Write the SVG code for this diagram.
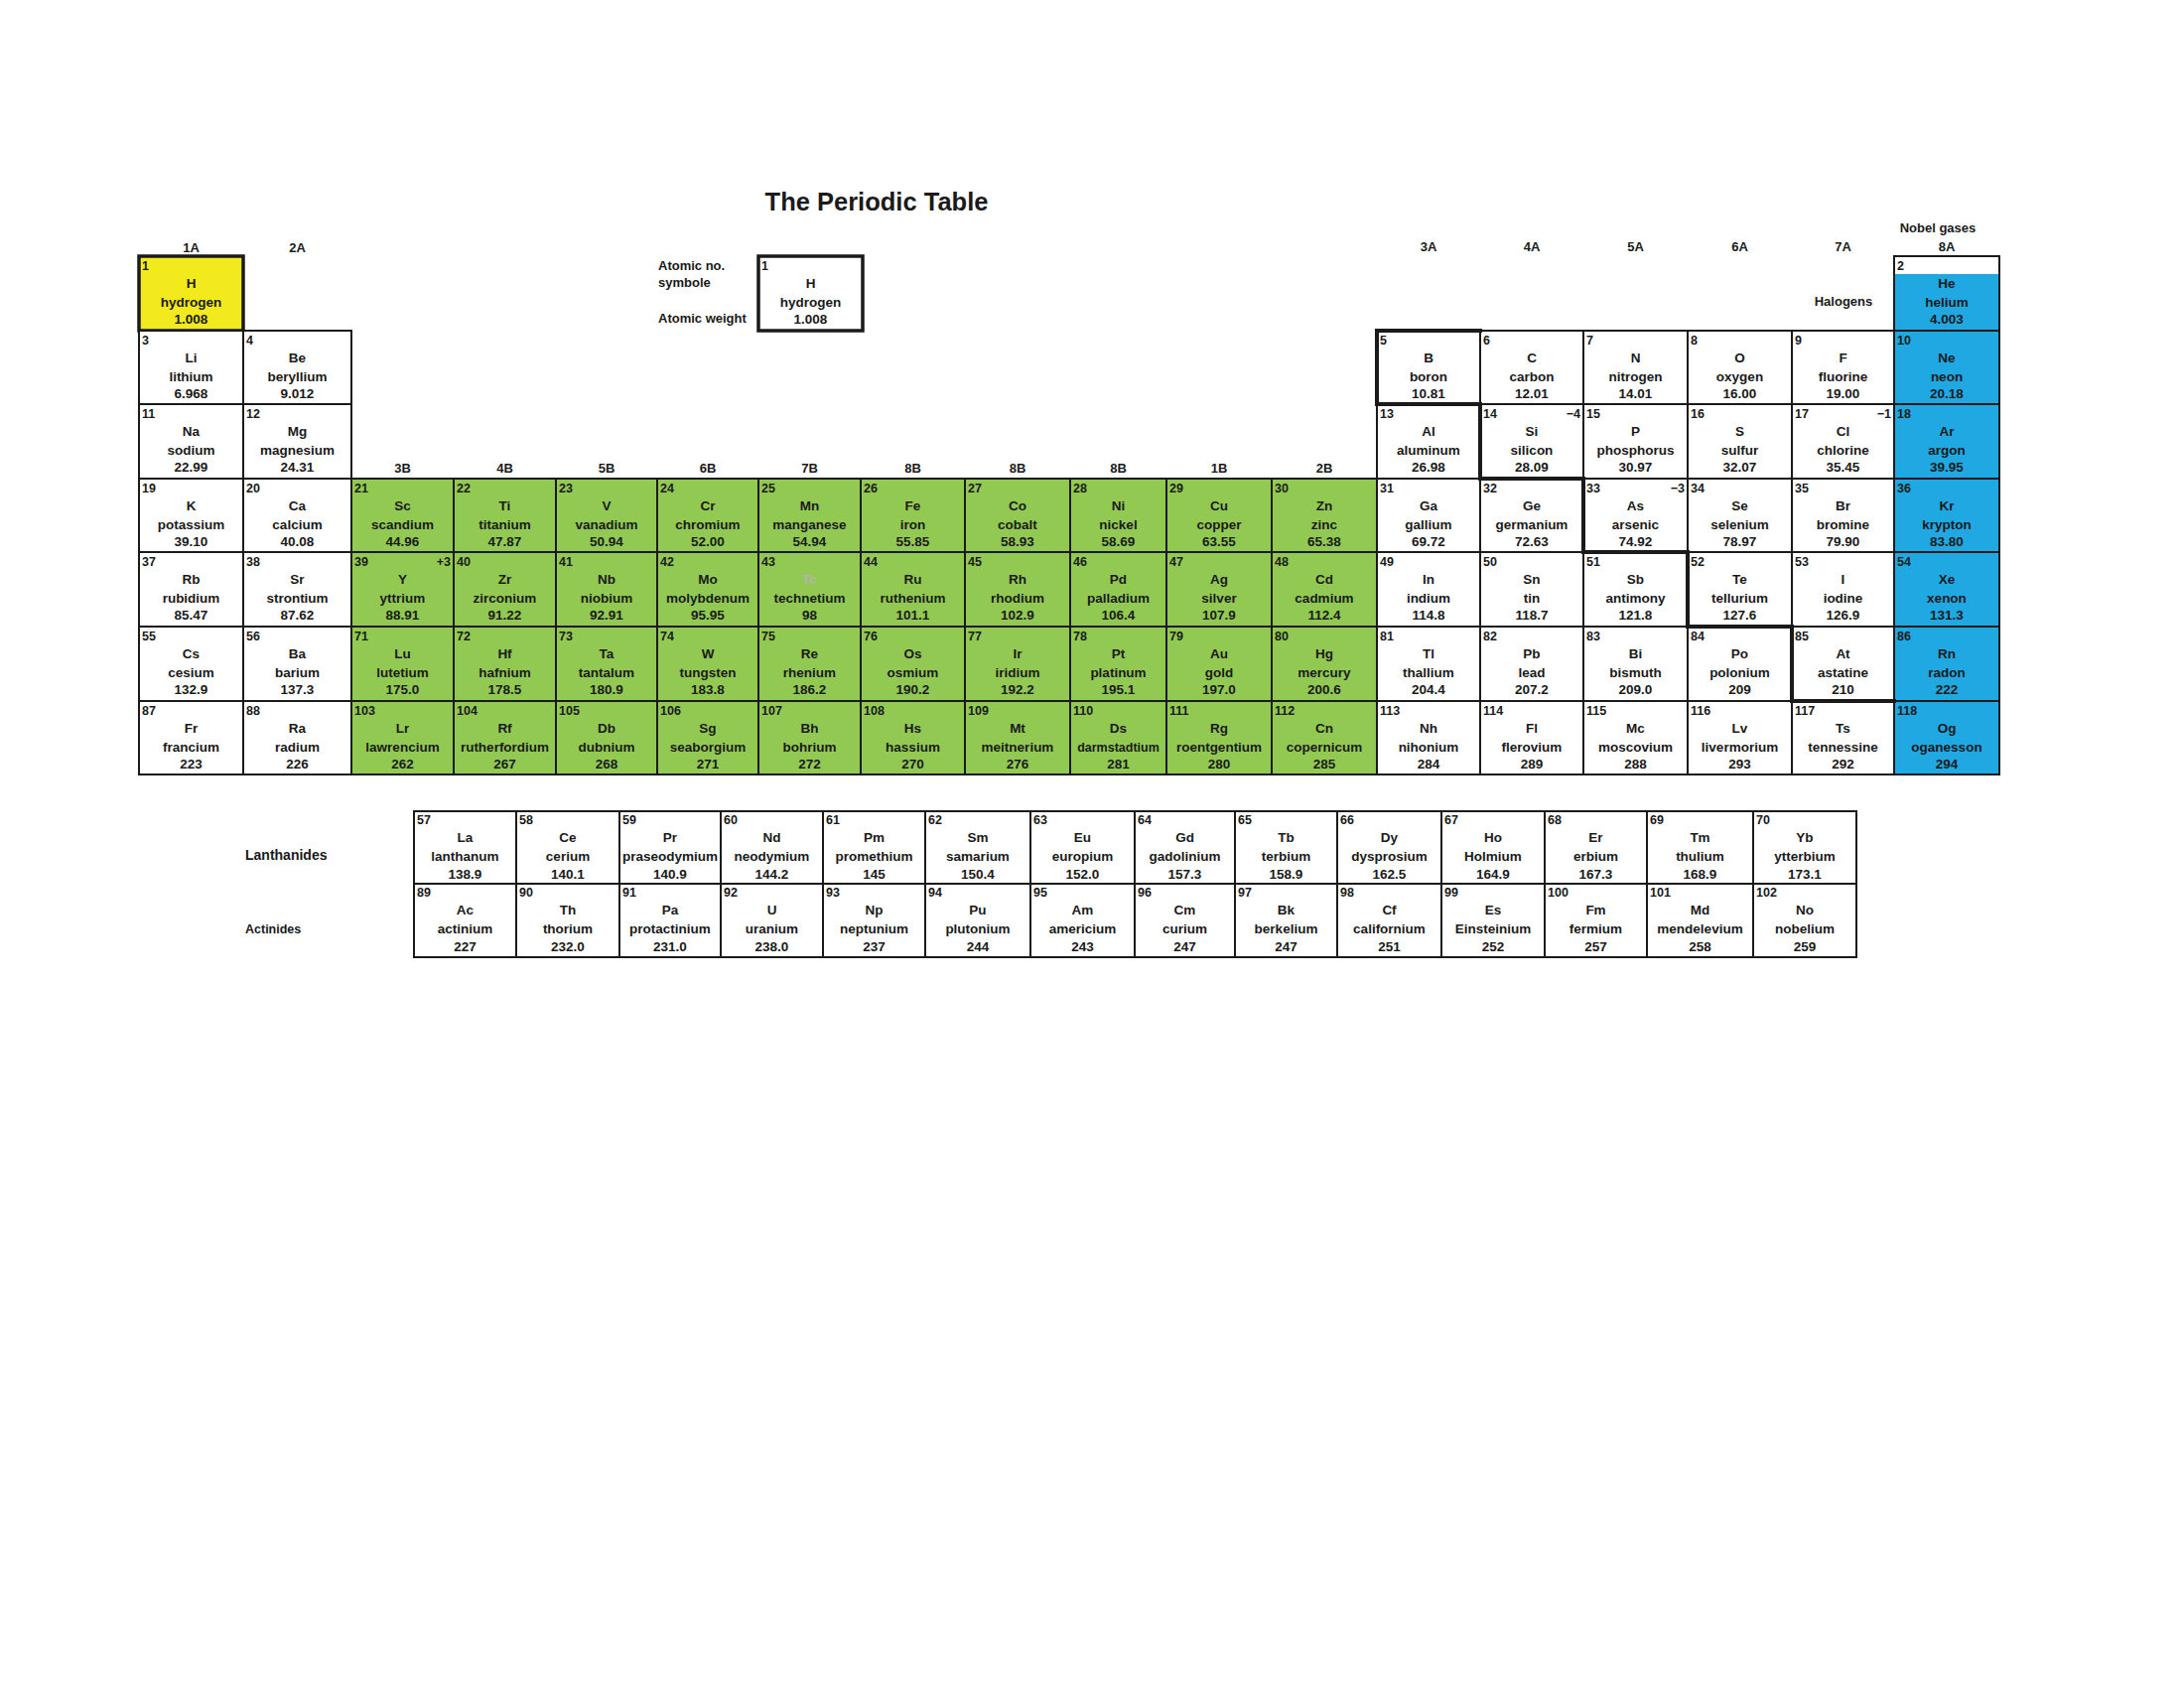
<svg xmlns="http://www.w3.org/2000/svg" width="2200" height="1700" viewBox="0 0 2200 1700">
<style>
text{font-family:"Liberation Sans",Arial,sans-serif;font-weight:bold;fill:#1a1a1a;font-size:13.5px;text-anchor:middle}
.n{font-size:12.5px;text-anchor:start}
.o{font-size:12.5px;text-anchor:end}
.lbl{font-size:13px}
.lft{font-size:13px;text-anchor:start}
.title{font-size:25.5px}
.cell rect{fill:#fff;stroke:#1a1a1a;stroke-width:2}
.g rect{fill:#92c953;stroke:#1a1a1a;stroke-width:2}
.b rect{fill:#1fa8e1;stroke:#1a1a1a;stroke-width:2}
.yel rect{fill:#f2ea1d;stroke:#1a1a1a;stroke-width:3.5}
.thick rect{stroke-width:3.5}
.tc{fill:#b4b4b4}
.stair{fill:none;stroke:#1a1a1a;stroke-width:4;stroke-linecap:square}
</style>
<rect width="2200" height="1700" fill="#fff"/>
<g id="labels">
<text class="title" x="883" y="212">The Periodic Table</text>
<text class="lbl" x="192.5" y="254">1A</text>
<text class="lbl" x="299.5" y="254">2A</text>
<text class="lbl" x="1439" y="253">3A</text>
<text class="lbl" x="1543" y="253">4A</text>
<text class="lbl" x="1647.5" y="253">5A</text>
<text class="lbl" x="1752.5" y="253">6A</text>
<text class="lbl" x="1856.5" y="253">7A</text>
<text class="lbl" x="1961" y="253">8A</text>
<text class="lbl" x="1952" y="234">Nobel gases</text>
<text class="lbl" x="1857" y="308">Halogens</text>
<text class="lbl" x="405.5" y="476">3B</text>
<text class="lbl" x="508.5" y="476">4B</text>
<text class="lbl" x="611" y="476">5B</text>
<text class="lbl" x="713" y="476">6B</text>
<text class="lbl" x="815.5" y="476">7B</text>
<text class="lbl" x="919.5" y="476">8B</text>
<text class="lbl" x="1025" y="476">8B</text>
<text class="lbl" x="1126.5" y="476">8B</text>
<text class="lbl" x="1228" y="476">1B</text>
<text class="lbl" x="1334" y="476">2B</text>
<text class="lft" x="663" y="272">Atomic no.</text>
<text class="lft" x="663" y="289">symbole</text>
<text class="lft" x="663" y="325">Atomic weight</text>
<text class="lft" x="247" y="866" style="font-size:14px">Lanthanides</text>
<text class="lft" x="247" y="940" style="font-size:12.5px">Actinides</text>
</g>
<g id="legend" class="cell thick"><rect x="764" y="258" width="105" height="75"/><text class="n" x="767" y="271.5">1</text><text x="816.5" y="290">H</text><text x="816.5" y="308.5">hydrogen</text><text x="816.5" y="326">1.008</text></g>
<g id="cells">
<g id="e1" class="yel"><rect x="140" y="258" width="105" height="75"/><text class="n" x="143" y="271.5">1</text><text x="192.5" y="290">H</text><text x="192.5" y="308.5">hydrogen</text><text x="192.5" y="326">1.008</text></g>
<g id="e2" class="cell"><rect x="1908" y="258" width="106" height="75"/><rect x="1909" y="276" width="104" height="56" style="fill:#1fa8e1;stroke:none"/><text class="n" x="1911" y="271.5">2</text><text x="1961" y="290">He</text><text x="1961" y="308.5">helium</text><text x="1961" y="326">4.003</text></g>

<g id="e3" class="cell"><rect x="140" y="333" width="105" height="74"/><text class="n" x="143" y="346.5">3</text><text x="192.5" y="365">Li</text><text x="192.5" y="383.5">lithium</text><text x="192.5" y="401">6.968</text></g>
<g id="e4" class="cell"><rect x="245" y="333" width="109" height="74"/><text class="n" x="248" y="346.5">4</text><text x="299.5" y="365">Be</text><text x="299.5" y="383.5">beryllium</text><text x="299.5" y="401">9.012</text></g>
<g id="e5" class="cell"><rect x="1387" y="333" width="104" height="74"/><text class="n" x="1390" y="346.5">5</text><text x="1439" y="365">B</text><text x="1439" y="383.5">boron</text><text x="1439" y="401">10.81</text></g>
<g id="e6" class="cell"><rect x="1491" y="333" width="104" height="74"/><text class="n" x="1494" y="346.5">6</text><text x="1543" y="365">C</text><text x="1543" y="383.5">carbon</text><text x="1543" y="401">12.01</text></g>
<g id="e7" class="cell"><rect x="1595" y="333" width="105" height="74"/><text class="n" x="1598" y="346.5">7</text><text x="1647.5" y="365">N</text><text x="1647.5" y="383.5">nitrogen</text><text x="1647.5" y="401">14.01</text></g>
<g id="e8" class="cell"><rect x="1700" y="333" width="105" height="74"/><text class="n" x="1703" y="346.5">8</text><text x="1752.5" y="365">O</text><text x="1752.5" y="383.5">oxygen</text><text x="1752.5" y="401">16.00</text></g>
<g id="e9" class="cell"><rect x="1805" y="333" width="103" height="74"/><text class="n" x="1808" y="346.5">9</text><text x="1856.5" y="365">F</text><text x="1856.5" y="383.5">fluorine</text><text x="1856.5" y="401">19.00</text></g>
<g id="e10" class="b"><rect x="1908" y="333" width="106" height="74"/><text class="n" x="1911" y="346.5">10</text><text x="1961" y="365">Ne</text><text x="1961" y="383.5">neon</text><text x="1961" y="401">20.18</text></g>

<g id="e11" class="cell"><rect x="140" y="407" width="105" height="75"/><text class="n" x="143" y="420.5">11</text><text x="192.5" y="439">Na</text><text x="192.5" y="457.5">sodium</text><text x="192.5" y="475">22.99</text></g>
<g id="e12" class="cell"><rect x="245" y="407" width="109" height="75"/><text class="n" x="248" y="420.5">12</text><text x="299.5" y="439">Mg</text><text x="299.5" y="457.5">magnesium</text><text x="299.5" y="475">24.31</text></g>
<g id="e13" class="cell"><rect x="1387" y="407" width="104" height="75"/><text class="n" x="1390" y="420.5">13</text><text x="1439" y="439">Al</text><text x="1439" y="457.5">aluminum</text><text x="1439" y="475">26.98</text></g>
<g id="e14" class="cell"><rect x="1491" y="407" width="104" height="75"/><text class="n" x="1494" y="420.5">14</text><text class="o" x="1592" y="420.5">−4</text><text x="1543" y="439">Si</text><text x="1543" y="457.5">silicon</text><text x="1543" y="475">28.09</text></g>
<g id="e15" class="cell"><rect x="1595" y="407" width="105" height="75"/><text class="n" x="1598" y="420.5">15</text><text x="1647.5" y="439">P</text><text x="1647.5" y="457.5">phosphorus</text><text x="1647.5" y="475">30.97</text></g>
<g id="e16" class="cell"><rect x="1700" y="407" width="105" height="75"/><text class="n" x="1703" y="420.5">16</text><text x="1752.5" y="439">S</text><text x="1752.5" y="457.5">sulfur</text><text x="1752.5" y="475">32.07</text></g>
<g id="e17" class="cell"><rect x="1805" y="407" width="103" height="75"/><text class="n" x="1808" y="420.5">17</text><text class="o" x="1905" y="420.5">−1</text><text x="1856.5" y="439">Cl</text><text x="1856.5" y="457.5">chlorine</text><text x="1856.5" y="475">35.45</text></g>
<g id="e18" class="b"><rect x="1908" y="407" width="106" height="75"/><text class="n" x="1911" y="420.5">18</text><text x="1961" y="439">Ar</text><text x="1961" y="457.5">argon</text><text x="1961" y="475">39.95</text></g>

<g id="e19" class="cell"><rect x="140" y="482" width="105" height="74"/><text class="n" x="143" y="495.5">19</text><text x="192.5" y="514">K</text><text x="192.5" y="532.5">potassium</text><text x="192.5" y="550">39.10</text></g>
<g id="e20" class="cell"><rect x="245" y="482" width="109" height="74"/><text class="n" x="248" y="495.5">20</text><text x="299.5" y="514">Ca</text><text x="299.5" y="532.5">calcium</text><text x="299.5" y="550">40.08</text></g>
<g id="e21" class="g"><rect x="354" y="482" width="103" height="74"/><text class="n" x="357" y="495.5">21</text><text x="405.5" y="514">Sc</text><text x="405.5" y="532.5">scandium</text><text x="405.5" y="550">44.96</text></g>
<g id="e22" class="g"><rect x="457" y="482" width="103" height="74"/><text class="n" x="460" y="495.5">22</text><text x="508.5" y="514">Ti</text><text x="508.5" y="532.5">titanium</text><text x="508.5" y="550">47.87</text></g>
<g id="e23" class="g"><rect x="560" y="482" width="102" height="74"/><text class="n" x="563" y="495.5">23</text><text x="611" y="514">V</text><text x="611" y="532.5">vanadium</text><text x="611" y="550">50.94</text></g>
<g id="e24" class="g"><rect x="662" y="482" width="102" height="74"/><text class="n" x="665" y="495.5">24</text><text x="713" y="514">Cr</text><text x="713" y="532.5">chromium</text><text x="713" y="550">52.00</text></g>
<g id="e25" class="g"><rect x="764" y="482" width="103" height="74"/><text class="n" x="767" y="495.5">25</text><text x="815.5" y="514">Mn</text><text x="815.5" y="532.5">manganese</text><text x="815.5" y="550">54.94</text></g>
<g id="e26" class="g"><rect x="867" y="482" width="105" height="74"/><text class="n" x="870" y="495.5">26</text><text x="919.5" y="514">Fe</text><text x="919.5" y="532.5">iron</text><text x="919.5" y="550">55.85</text></g>
<g id="e27" class="g"><rect x="972" y="482" width="106" height="74"/><text class="n" x="975" y="495.5">27</text><text x="1025" y="514">Co</text><text x="1025" y="532.5">cobalt</text><text x="1025" y="550">58.93</text></g>
<g id="e28" class="g"><rect x="1078" y="482" width="97" height="74"/><text class="n" x="1081" y="495.5">28</text><text x="1126.5" y="514">Ni</text><text x="1126.5" y="532.5">nickel</text><text x="1126.5" y="550">58.69</text></g>
<g id="e29" class="g"><rect x="1175" y="482" width="106" height="74"/><text class="n" x="1178" y="495.5">29</text><text x="1228" y="514">Cu</text><text x="1228" y="532.5">copper</text><text x="1228" y="550">63.55</text></g>
<g id="e30" class="g"><rect x="1281" y="482" width="106" height="74"/><text class="n" x="1284" y="495.5">30</text><text x="1334" y="514">Zn</text><text x="1334" y="532.5">zinc</text><text x="1334" y="550">65.38</text></g>
<g id="e31" class="cell"><rect x="1387" y="482" width="104" height="74"/><text class="n" x="1390" y="495.5">31</text><text x="1439" y="514">Ga</text><text x="1439" y="532.5">gallium</text><text x="1439" y="550">69.72</text></g>
<g id="e32" class="cell"><rect x="1491" y="482" width="104" height="74"/><text class="n" x="1494" y="495.5">32</text><text x="1543" y="514">Ge</text><text x="1543" y="532.5">germanium</text><text x="1543" y="550">72.63</text></g>
<g id="e33" class="cell"><rect x="1595" y="482" width="105" height="74"/><text class="n" x="1598" y="495.5">33</text><text class="o" x="1697" y="495.5">−3</text><text x="1647.5" y="514">As</text><text x="1647.5" y="532.5">arsenic</text><text x="1647.5" y="550">74.92</text></g>
<g id="e34" class="cell"><rect x="1700" y="482" width="105" height="74"/><text class="n" x="1703" y="495.5">34</text><text x="1752.5" y="514">Se</text><text x="1752.5" y="532.5">selenium</text><text x="1752.5" y="550">78.97</text></g>
<g id="e35" class="cell"><rect x="1805" y="482" width="103" height="74"/><text class="n" x="1808" y="495.5">35</text><text x="1856.5" y="514">Br</text><text x="1856.5" y="532.5">bromine</text><text x="1856.5" y="550">79.90</text></g>
<g id="e36" class="b"><rect x="1908" y="482" width="106" height="74"/><text class="n" x="1911" y="495.5">36</text><text x="1961" y="514">Kr</text><text x="1961" y="532.5">krypton</text><text x="1961" y="550">83.80</text></g>

<g id="e37" class="cell"><rect x="140" y="556" width="105" height="75"/><text class="n" x="143" y="569.5">37</text><text x="192.5" y="588">Rb</text><text x="192.5" y="606.5">rubidium</text><text x="192.5" y="624">85.47</text></g>
<g id="e38" class="cell"><rect x="245" y="556" width="109" height="75"/><text class="n" x="248" y="569.5">38</text><text x="299.5" y="588">Sr</text><text x="299.5" y="606.5">strontium</text><text x="299.5" y="624">87.62</text></g>
<g id="e39" class="g"><rect x="354" y="556" width="103" height="75"/><text class="n" x="357" y="569.5">39</text><text class="o" x="454" y="569.5">+3</text><text x="405.5" y="588">Y</text><text x="405.5" y="606.5">yttrium</text><text x="405.5" y="624">88.91</text></g>
<g id="e40" class="g"><rect x="457" y="556" width="103" height="75"/><text class="n" x="460" y="569.5">40</text><text x="508.5" y="588">Zr</text><text x="508.5" y="606.5">zirconium</text><text x="508.5" y="624">91.22</text></g>
<g id="e41" class="g"><rect x="560" y="556" width="102" height="75"/><text class="n" x="563" y="569.5">41</text><text x="611" y="588">Nb</text><text x="611" y="606.5">niobium</text><text x="611" y="624">92.91</text></g>
<g id="e42" class="g"><rect x="662" y="556" width="102" height="75"/><text class="n" x="665" y="569.5">42</text><text x="713" y="588">Mo</text><text x="713" y="606.5">molybdenum</text><text x="713" y="624">95.95</text></g>
<g id="e43" class="g"><rect x="764" y="556" width="103" height="75"/><text class="n" x="767" y="569.5">43</text><text class="tc" x="815.5" y="588">Tc</text><text x="815.5" y="606.5">technetium</text><text x="815.5" y="624">98</text></g>
<g id="e44" class="g"><rect x="867" y="556" width="105" height="75"/><text class="n" x="870" y="569.5">44</text><text x="919.5" y="588">Ru</text><text x="919.5" y="606.5">ruthenium</text><text x="919.5" y="624">101.1</text></g>
<g id="e45" class="g"><rect x="972" y="556" width="106" height="75"/><text class="n" x="975" y="569.5">45</text><text x="1025" y="588">Rh</text><text x="1025" y="606.5">rhodium</text><text x="1025" y="624">102.9</text></g>
<g id="e46" class="g"><rect x="1078" y="556" width="97" height="75"/><text class="n" x="1081" y="569.5">46</text><text x="1126.5" y="588">Pd</text><text x="1126.5" y="606.5">palladium</text><text x="1126.5" y="624">106.4</text></g>
<g id="e47" class="g"><rect x="1175" y="556" width="106" height="75"/><text class="n" x="1178" y="569.5">47</text><text x="1228" y="588">Ag</text><text x="1228" y="606.5">silver</text><text x="1228" y="624">107.9</text></g>
<g id="e48" class="g"><rect x="1281" y="556" width="106" height="75"/><text class="n" x="1284" y="569.5">48</text><text x="1334" y="588">Cd</text><text x="1334" y="606.5">cadmium</text><text x="1334" y="624">112.4</text></g>
<g id="e49" class="cell"><rect x="1387" y="556" width="104" height="75"/><text class="n" x="1390" y="569.5">49</text><text x="1439" y="588">In</text><text x="1439" y="606.5">indium</text><text x="1439" y="624">114.8</text></g>
<g id="e50" class="cell"><rect x="1491" y="556" width="104" height="75"/><text class="n" x="1494" y="569.5">50</text><text x="1543" y="588">Sn</text><text x="1543" y="606.5">tin</text><text x="1543" y="624">118.7</text></g>
<g id="e51" class="cell"><rect x="1595" y="556" width="105" height="75"/><text class="n" x="1598" y="569.5">51</text><text x="1647.5" y="588">Sb</text><text x="1647.5" y="606.5">antimony</text><text x="1647.5" y="624">121.8</text></g>
<g id="e52" class="cell"><rect x="1700" y="556" width="105" height="75"/><text class="n" x="1703" y="569.5">52</text><text x="1752.5" y="588">Te</text><text x="1752.5" y="606.5">tellurium</text><text x="1752.5" y="624">127.6</text></g>
<g id="e53" class="cell"><rect x="1805" y="556" width="103" height="75"/><text class="n" x="1808" y="569.5">53</text><text x="1856.5" y="588">I</text><text x="1856.5" y="606.5">iodine</text><text x="1856.5" y="624">126.9</text></g>
<g id="e54" class="b"><rect x="1908" y="556" width="106" height="75"/><text class="n" x="1911" y="569.5">54</text><text x="1961" y="588">Xe</text><text x="1961" y="606.5">xenon</text><text x="1961" y="624">131.3</text></g>

<g id="e55" class="cell"><rect x="140" y="631" width="105" height="75"/><text class="n" x="143" y="644.5">55</text><text x="192.5" y="663">Cs</text><text x="192.5" y="681.5">cesium</text><text x="192.5" y="699">132.9</text></g>
<g id="e56" class="cell"><rect x="245" y="631" width="109" height="75"/><text class="n" x="248" y="644.5">56</text><text x="299.5" y="663">Ba</text><text x="299.5" y="681.5">barium</text><text x="299.5" y="699">137.3</text></g>
<g id="e71" class="g"><rect x="354" y="631" width="103" height="75"/><text class="n" x="357" y="644.5">71</text><text x="405.5" y="663">Lu</text><text x="405.5" y="681.5">lutetium</text><text x="405.5" y="699">175.0</text></g>
<g id="e72" class="g"><rect x="457" y="631" width="103" height="75"/><text class="n" x="460" y="644.5">72</text><text x="508.5" y="663">Hf</text><text x="508.5" y="681.5">hafnium</text><text x="508.5" y="699">178.5</text></g>
<g id="e73" class="g"><rect x="560" y="631" width="102" height="75"/><text class="n" x="563" y="644.5">73</text><text x="611" y="663">Ta</text><text x="611" y="681.5">tantalum</text><text x="611" y="699">180.9</text></g>
<g id="e74" class="g"><rect x="662" y="631" width="102" height="75"/><text class="n" x="665" y="644.5">74</text><text x="713" y="663">W</text><text x="713" y="681.5">tungsten</text><text x="713" y="699">183.8</text></g>
<g id="e75" class="g"><rect x="764" y="631" width="103" height="75"/><text class="n" x="767" y="644.5">75</text><text x="815.5" y="663">Re</text><text x="815.5" y="681.5">rhenium</text><text x="815.5" y="699">186.2</text></g>
<g id="e76" class="g"><rect x="867" y="631" width="105" height="75"/><text class="n" x="870" y="644.5">76</text><text x="919.5" y="663">Os</text><text x="919.5" y="681.5">osmium</text><text x="919.5" y="699">190.2</text></g>
<g id="e77" class="g"><rect x="972" y="631" width="106" height="75"/><text class="n" x="975" y="644.5">77</text><text x="1025" y="663">Ir</text><text x="1025" y="681.5">iridium</text><text x="1025" y="699">192.2</text></g>
<g id="e78" class="g"><rect x="1078" y="631" width="97" height="75"/><text class="n" x="1081" y="644.5">78</text><text x="1126.5" y="663">Pt</text><text x="1126.5" y="681.5">platinum</text><text x="1126.5" y="699">195.1</text></g>
<g id="e79" class="g"><rect x="1175" y="631" width="106" height="75"/><text class="n" x="1178" y="644.5">79</text><text x="1228" y="663">Au</text><text x="1228" y="681.5">gold</text><text x="1228" y="699">197.0</text></g>
<g id="e80" class="g"><rect x="1281" y="631" width="106" height="75"/><text class="n" x="1284" y="644.5">80</text><text x="1334" y="663">Hg</text><text x="1334" y="681.5">mercury</text><text x="1334" y="699">200.6</text></g>
<g id="e81" class="cell"><rect x="1387" y="631" width="104" height="75"/><text class="n" x="1390" y="644.5">81</text><text x="1439" y="663">Tl</text><text x="1439" y="681.5">thallium</text><text x="1439" y="699">204.4</text></g>
<g id="e82" class="cell"><rect x="1491" y="631" width="104" height="75"/><text class="n" x="1494" y="644.5">82</text><text x="1543" y="663">Pb</text><text x="1543" y="681.5">lead</text><text x="1543" y="699">207.2</text></g>
<g id="e83" class="cell"><rect x="1595" y="631" width="105" height="75"/><text class="n" x="1598" y="644.5">83</text><text x="1647.5" y="663">Bi</text><text x="1647.5" y="681.5">bismuth</text><text x="1647.5" y="699">209.0</text></g>
<g id="e84" class="cell"><rect x="1700" y="631" width="105" height="75"/><text class="n" x="1703" y="644.5">84</text><text x="1752.5" y="663">Po</text><text x="1752.5" y="681.5">polonium</text><text x="1752.5" y="699">209</text></g>
<g id="e85" class="cell"><rect x="1805" y="631" width="103" height="75"/><text class="n" x="1808" y="644.5">85</text><text x="1856.5" y="663">At</text><text x="1856.5" y="681.5">astatine</text><text x="1856.5" y="699">210</text></g>
<g id="e86" class="b"><rect x="1908" y="631" width="106" height="75"/><text class="n" x="1911" y="644.5">86</text><text x="1961" y="663">Rn</text><text x="1961" y="681.5">radon</text><text x="1961" y="699">222</text></g>

<g id="e87" class="cell"><rect x="140" y="706" width="105" height="74"/><text class="n" x="143" y="719.5">87</text><text x="192.5" y="738">Fr</text><text x="192.5" y="756.5">francium</text><text x="192.5" y="774">223</text></g>
<g id="e88" class="cell"><rect x="245" y="706" width="109" height="74"/><text class="n" x="248" y="719.5">88</text><text x="299.5" y="738">Ra</text><text x="299.5" y="756.5">radium</text><text x="299.5" y="774">226</text></g>
<g id="e103" class="g"><rect x="354" y="706" width="103" height="74"/><text class="n" x="357" y="719.5">103</text><text x="405.5" y="738">Lr</text><text x="405.5" y="756.5">lawrencium</text><text x="405.5" y="774">262</text></g>
<g id="e104" class="g"><rect x="457" y="706" width="103" height="74"/><text class="n" x="460" y="719.5">104</text><text x="508.5" y="738">Rf</text><text x="508.5" y="756.5">rutherfordium</text><text x="508.5" y="774">267</text></g>
<g id="e105" class="g"><rect x="560" y="706" width="102" height="74"/><text class="n" x="563" y="719.5">105</text><text x="611" y="738">Db</text><text x="611" y="756.5">dubnium</text><text x="611" y="774">268</text></g>
<g id="e106" class="g"><rect x="662" y="706" width="102" height="74"/><text class="n" x="665" y="719.5">106</text><text x="713" y="738">Sg</text><text x="713" y="756.5">seaborgium</text><text x="713" y="774">271</text></g>
<g id="e107" class="g"><rect x="764" y="706" width="103" height="74"/><text class="n" x="767" y="719.5">107</text><text x="815.5" y="738">Bh</text><text x="815.5" y="756.5">bohrium</text><text x="815.5" y="774">272</text></g>
<g id="e108" class="g"><rect x="867" y="706" width="105" height="74"/><text class="n" x="870" y="719.5">108</text><text x="919.5" y="738">Hs</text><text x="919.5" y="756.5">hassium</text><text x="919.5" y="774">270</text></g>
<g id="e109" class="g"><rect x="972" y="706" width="106" height="74"/><text class="n" x="975" y="719.5">109</text><text x="1025" y="738">Mt</text><text x="1025" y="756.5">meitnerium</text><text x="1025" y="774">276</text></g>
<g id="e110" class="g"><rect x="1078" y="706" width="97" height="74"/><text class="n" x="1081" y="719.5">110</text><text x="1126.5" y="738">Ds</text><text x="1126.5" y="756.5" style="font-size:12.5px">darmstadtium</text><text x="1126.5" y="774">281</text></g>
<g id="e111" class="g"><rect x="1175" y="706" width="106" height="74"/><text class="n" x="1178" y="719.5">111</text><text x="1228" y="738">Rg</text><text x="1228" y="756.5">roentgentium</text><text x="1228" y="774">280</text></g>
<g id="e112" class="g"><rect x="1281" y="706" width="106" height="74"/><text class="n" x="1284" y="719.5">112</text><text x="1334" y="738">Cn</text><text x="1334" y="756.5">copernicum</text><text x="1334" y="774">285</text></g>
<g id="e113" class="cell"><rect x="1387" y="706" width="104" height="74"/><text class="n" x="1390" y="719.5">113</text><text x="1439" y="738">Nh</text><text x="1439" y="756.5">nihonium</text><text x="1439" y="774">284</text></g>
<g id="e114" class="cell"><rect x="1491" y="706" width="104" height="74"/><text class="n" x="1494" y="719.5">114</text><text x="1543" y="738">Fl</text><text x="1543" y="756.5">flerovium</text><text x="1543" y="774">289</text></g>
<g id="e115" class="cell"><rect x="1595" y="706" width="105" height="74"/><text class="n" x="1598" y="719.5">115</text><text x="1647.5" y="738">Mc</text><text x="1647.5" y="756.5">moscovium</text><text x="1647.5" y="774">288</text></g>
<g id="e116" class="cell"><rect x="1700" y="706" width="105" height="74"/><text class="n" x="1703" y="719.5">116</text><text x="1752.5" y="738">Lv</text><text x="1752.5" y="756.5">livermorium</text><text x="1752.5" y="774">293</text></g>
<g id="e117" class="cell"><rect x="1805" y="706" width="103" height="74"/><text class="n" x="1808" y="719.5">117</text><text x="1856.5" y="738">Ts</text><text x="1856.5" y="756.5">tennessine</text><text x="1856.5" y="774">292</text></g>
<g id="e118" class="b"><rect x="1908" y="706" width="106" height="74"/><text class="n" x="1911" y="719.5">118</text><text x="1961" y="738">Og</text><text x="1961" y="756.5">oganesson</text><text x="1961" y="774">294</text></g>

<g id="e57" class="cell"><rect x="417" y="817" width="103" height="73"/><text class="n" x="420" y="830">57</text><text x="468.5" y="848">La</text><text x="468.5" y="867">lanthanum</text><text x="468.5" y="884.5">138.9</text></g>
<g id="e58" class="cell"><rect x="520" y="817" width="104" height="73"/><text class="n" x="523" y="830">58</text><text x="572" y="848">Ce</text><text x="572" y="867">cerium</text><text x="572" y="884.5">140.1</text></g>
<g id="e59" class="cell"><rect x="624" y="817" width="102" height="73"/><text class="n" x="627" y="830">59</text><text x="675" y="848">Pr</text><text x="675" y="867">praseodymium</text><text x="675" y="884.5">140.9</text></g>
<g id="e60" class="cell"><rect x="726" y="817" width="103" height="73"/><text class="n" x="729" y="830">60</text><text x="777.5" y="848">Nd</text><text x="777.5" y="867">neodymium</text><text x="777.5" y="884.5">144.2</text></g>
<g id="e61" class="cell"><rect x="829" y="817" width="103" height="73"/><text class="n" x="832" y="830">61</text><text x="880.5" y="848">Pm</text><text x="880.5" y="867">promethium</text><text x="880.5" y="884.5">145</text></g>
<g id="e62" class="cell"><rect x="932" y="817" width="106" height="73"/><text class="n" x="935" y="830">62</text><text x="985" y="848">Sm</text><text x="985" y="867">samarium</text><text x="985" y="884.5">150.4</text></g>
<g id="e63" class="cell"><rect x="1038" y="817" width="105" height="73"/><text class="n" x="1041" y="830">63</text><text x="1090.5" y="848">Eu</text><text x="1090.5" y="867">europium</text><text x="1090.5" y="884.5">152.0</text></g>
<g id="e64" class="cell"><rect x="1143" y="817" width="101" height="73"/><text class="n" x="1146" y="830">64</text><text x="1193.5" y="848">Gd</text><text x="1193.5" y="867">gadolinium</text><text x="1193.5" y="884.5">157.3</text></g>
<g id="e65" class="cell"><rect x="1244" y="817" width="103" height="73"/><text class="n" x="1247" y="830">65</text><text x="1295.5" y="848">Tb</text><text x="1295.5" y="867">terbium</text><text x="1295.5" y="884.5">158.9</text></g>
<g id="e66" class="cell"><rect x="1347" y="817" width="105" height="73"/><text class="n" x="1350" y="830">66</text><text x="1399.5" y="848">Dy</text><text x="1399.5" y="867">dysprosium</text><text x="1399.5" y="884.5">162.5</text></g>
<g id="e67" class="cell"><rect x="1452" y="817" width="104" height="73"/><text class="n" x="1455" y="830">67</text><text x="1504" y="848">Ho</text><text x="1504" y="867">Holmium</text><text x="1504" y="884.5">164.9</text></g>
<g id="e68" class="cell"><rect x="1556" y="817" width="103" height="73"/><text class="n" x="1559" y="830">68</text><text x="1607.5" y="848">Er</text><text x="1607.5" y="867">erbium</text><text x="1607.5" y="884.5">167.3</text></g>
<g id="e69" class="cell"><rect x="1659" y="817" width="107" height="73"/><text class="n" x="1662" y="830">69</text><text x="1712.5" y="848">Tm</text><text x="1712.5" y="867">thulium</text><text x="1712.5" y="884.5">168.9</text></g>
<g id="e70" class="cell"><rect x="1766" y="817" width="104" height="73"/><text class="n" x="1769" y="830">70</text><text x="1818" y="848">Yb</text><text x="1818" y="867">ytterbium</text><text x="1818" y="884.5">173.1</text></g>

<g id="e89" class="cell"><rect x="417" y="890" width="103" height="74"/><text class="n" x="420" y="903">89</text><text x="468.5" y="921">Ac</text><text x="468.5" y="940">actinium</text><text x="468.5" y="957.5">227</text></g>
<g id="e90" class="cell"><rect x="520" y="890" width="104" height="74"/><text class="n" x="523" y="903">90</text><text x="572" y="921">Th</text><text x="572" y="940">thorium</text><text x="572" y="957.5">232.0</text></g>
<g id="e91" class="cell"><rect x="624" y="890" width="102" height="74"/><text class="n" x="627" y="903">91</text><text x="675" y="921">Pa</text><text x="675" y="940">protactinium</text><text x="675" y="957.5">231.0</text></g>
<g id="e92" class="cell"><rect x="726" y="890" width="103" height="74"/><text class="n" x="729" y="903">92</text><text x="777.5" y="921">U</text><text x="777.5" y="940">uranium</text><text x="777.5" y="957.5">238.0</text></g>
<g id="e93" class="cell"><rect x="829" y="890" width="103" height="74"/><text class="n" x="832" y="903">93</text><text x="880.5" y="921">Np</text><text x="880.5" y="940">neptunium</text><text x="880.5" y="957.5">237</text></g>
<g id="e94" class="cell"><rect x="932" y="890" width="106" height="74"/><text class="n" x="935" y="903">94</text><text x="985" y="921">Pu</text><text x="985" y="940">plutonium</text><text x="985" y="957.5">244</text></g>
<g id="e95" class="cell"><rect x="1038" y="890" width="105" height="74"/><text class="n" x="1041" y="903">95</text><text x="1090.5" y="921">Am</text><text x="1090.5" y="940">americium</text><text x="1090.5" y="957.5">243</text></g>
<g id="e96" class="cell"><rect x="1143" y="890" width="101" height="74"/><text class="n" x="1146" y="903">96</text><text x="1193.5" y="921">Cm</text><text x="1193.5" y="940">curium</text><text x="1193.5" y="957.5">247</text></g>
<g id="e97" class="cell"><rect x="1244" y="890" width="103" height="74"/><text class="n" x="1247" y="903">97</text><text x="1295.5" y="921">Bk</text><text x="1295.5" y="940">berkelium</text><text x="1295.5" y="957.5">247</text></g>
<g id="e98" class="cell"><rect x="1347" y="890" width="105" height="74"/><text class="n" x="1350" y="903">98</text><text x="1399.5" y="921">Cf</text><text x="1399.5" y="940">californium</text><text x="1399.5" y="957.5">251</text></g>
<g id="e99" class="cell"><rect x="1452" y="890" width="104" height="74"/><text class="n" x="1455" y="903">99</text><text x="1504" y="921">Es</text><text x="1504" y="940">Einsteinium</text><text x="1504" y="957.5">252</text></g>
<g id="e100" class="cell"><rect x="1556" y="890" width="103" height="74"/><text class="n" x="1559" y="903">100</text><text x="1607.5" y="921">Fm</text><text x="1607.5" y="940">fermium</text><text x="1607.5" y="957.5">257</text></g>
<g id="e101" class="cell"><rect x="1659" y="890" width="107" height="74"/><text class="n" x="1662" y="903">101</text><text x="1712.5" y="921">Md</text><text x="1712.5" y="940">mendelevium</text><text x="1712.5" y="957.5">258</text></g>
<g id="e102" class="cell"><rect x="1766" y="890" width="104" height="74"/><text class="n" x="1769" y="903">102</text><text x="1818" y="921">No</text><text x="1818" y="940">nobelium</text><text x="1818" y="957.5">259</text></g>
</g>
<g id="connectors">
<path class="stair" d="M1491,333 H1387 V407 H1491 V482 H1595 V556 H1700 V631 H1805 V706 H1908"/>
</g>
</svg>
